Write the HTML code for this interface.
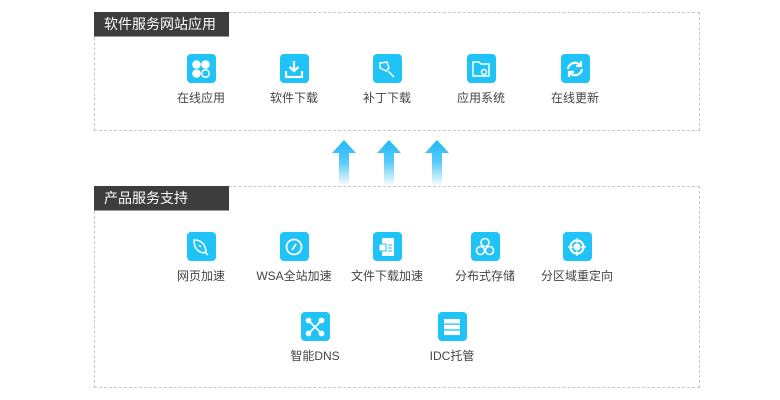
<!DOCTYPE html>
<html><head><meta charset="utf-8"><style>
body{margin:0;width:780px;height:400px;background:#fff;position:relative;overflow:hidden;font-family:"Liberation Sans","Noto Sans CJK SC",sans-serif}
.box{position:absolute;border:1px dashed #c8c8c8;box-sizing:border-box}
.hd{position:absolute;left:-1px;top:-1px;width:135px;height:25px;background:#3d3d3d;color:#fff;font-size:14px;line-height:25px;padding-left:10px;box-sizing:border-box;border-bottom:1px solid #999}
.it{position:absolute;width:90px;text-align:center;font-size:12px;color:#444}
.ic{width:29px;height:29px;background:#1fc3f5;border-radius:4px;margin:0 auto 6px;display:flex;align-items:center;justify-content:center}
</style></head><body>
<div class="box" style="left:94px;top:12px;width:606px;height:119px"><div class="hd">软件服务网站应用</div></div>
<div class="box" style="left:94px;top:186px;width:606px;height:202px"><div class="hd">产品服务支持</div></div>

<svg style="position:absolute;left:0;top:0" width="780" height="400">
<defs><linearGradient id="g" x1="0" y1="0" x2="0" y2="1"><stop offset="0" stop-color="#1fb8f5"/><stop offset="0.5" stop-color="#5cccf8"/><stop offset="1" stop-color="#fff"/></linearGradient></defs>
<g fill="url(#g)">
<path d="M344 140 L356 153 L349 153 L349 186 L339 186 L339 153 L332 153Z"/>
<path d="M389 140 L401 153 L394 153 L394 186 L384 186 L384 153 L377 153Z"/>
<path d="M437 140 L449 153 L442 153 L442 186 L432 186 L432 153 L425 153Z"/>
</g></svg>

<div class="it" style="left:156px;top:54px"><div class="ic"><svg width="20" height="20"><g fill="#fff"><circle cx="5.5" cy="5.5" r="4.3"/><circle cx="14.5" cy="5.5" r="4.3"/><circle cx="5.5" cy="14.5" r="4.3"/></g><circle cx="14.5" cy="14.5" r="3.8" fill="none" stroke="#fff" stroke-width="1.5"/></svg></div>在线应用</div>
<div class="it" style="left:249px;top:54px"><div class="ic"><svg width="20" height="20" fill="none" stroke="#fff" stroke-width="2.2"><path d="M10 2v10M5.5 8l4.5 4 4.5-4M2 12v6h16v-6"/></svg></div>软件下载</div>
<div class="it" style="left:342px;top:54px"><div class="ic"><svg width="20" height="20" fill="none" stroke="#fff" stroke-width="1.5"><path d="M3 4l7-1 2 6-3 3-6-3zM11 12l6 6"/></svg></div>补丁下载</div>
<div class="it" style="left:436px;top:54px"><div class="ic"><svg width="20" height="20" fill="none" stroke="#fff" stroke-width="1.5"><path d="M2 3h6l2 2h8v12H2z"/><circle cx="13" cy="13" r="2.5"/></svg></div>应用系统</div>
<div class="it" style="left:530px;top:54px"><div class="ic"><svg width="20" height="20" fill="none" stroke="#fff" stroke-width="2.2"><path d="M3 10a7 7 0 0 1 12-4M17 10a7 7 0 0 1-12 4"/><path d="M16 2v5h-5M4 18v-5h5"/></svg></div>在线更新</div>

<div class="it" style="left:156px;top:232px"><div class="ic"><svg width="20" height="20" fill="none" stroke="#fff" stroke-width="1.5"><path d="M3 3c7 0 11 4 12 11l-2 2C6 15 3 10 3 3z"/><path d="M14 15l3 3M8 8l2 2"/></svg></div>网页加速</div>
<div class="it" style="left:249px;top:232px"><div class="ic"><svg width="20" height="20" fill="none" stroke="#fff" stroke-width="1.8"><circle cx="10" cy="10" r="7.5"/><path d="M8 13l4-6"/></svg></div>WSA全站加速</div>
<div class="it" style="left:342px;top:232px"><div class="ic"><svg width="20" height="20" fill="#fff"><rect x="5" y="1" width="12" height="18"/><rect x="2" y="7" width="7" height="7" fill="#fff" stroke="#1fc3f5"/><path d="M11 8h4M11 11h4M11 14h4" stroke="#1fc3f5"/></svg></div>文件下载加速</div>
<div class="it" style="left:440px;top:232px"><div class="ic"><svg width="20" height="20" fill="none" stroke="#fff" stroke-width="1.6"><circle cx="10" cy="5.5" r="4"/><circle cx="5.5" cy="13.5" r="4"/><circle cx="14.5" cy="13.5" r="4"/></svg></div>分布式存储</div>
<div class="it" style="left:532px;top:232px"><div class="ic"><svg width="20" height="20" fill="none" stroke="#fff" stroke-width="2.2"><circle cx="10" cy="10" r="6.5"/><circle cx="10" cy="10" r="2.5" fill="#fff"/><path d="M10 1v5M10 14v5M1 10h5M14 10h5" stroke-width="1.2"/></svg></div>分区域重定向</div>

<div class="it" style="left:270px;top:312px"><div class="ic"><svg width="20" height="20" fill="#fff" stroke="#fff" stroke-width="1.8"><path d="M4 4l12 12M16 4L4 16"/><circle cx="3.5" cy="3.5" r="2"/><circle cx="16.5" cy="3.5" r="2"/><circle cx="3.5" cy="16.5" r="2"/><circle cx="16.5" cy="16.5" r="2"/></svg></div>智能DNS</div>
<div class="it" style="left:407px;top:312px"><div class="ic"><svg width="20" height="20" fill="#fff"><rect x="2" y="2" width="16" height="4.5"/><rect x="2" y="7.8" width="16" height="4.5"/><rect x="2" y="13.6" width="16" height="4.5"/></svg></div>IDC托管</div>
</body></html>
